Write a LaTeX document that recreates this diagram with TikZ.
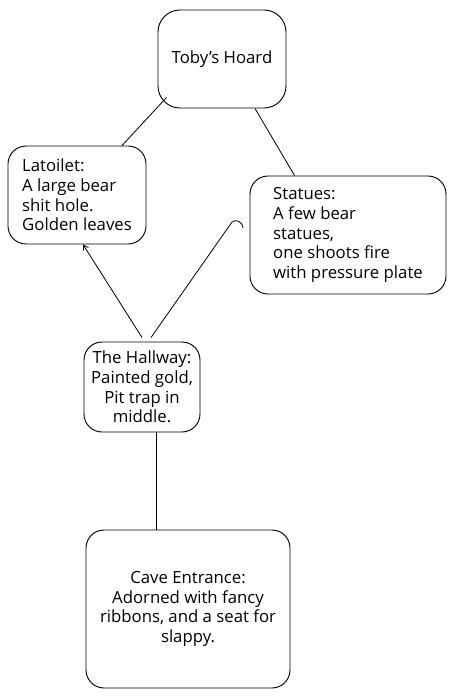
\documentclass[tikz,border=0pt]{standalone}
\usepackage{fontspec}
\setmainfont{Open Sans}
\usetikzlibrary{calc,arrows.meta}
\def\pxu{0.03cm}
\tikzset{
  box/.style={draw, line width=0.8pt, rounded corners=18*\pxu, inner sep=0pt,
    font=\fontsize{14.3}{16.8}\selectfont},
  link/.style={draw, line width=0.7pt},
}
\begin{document}
\begin{tikzpicture}[x=0.03cm,y=-0.03cm]
\useasboundingbox[fill=white] (0,0) rectangle (456,698);
\node[box, minimum width=128*\pxu, minimum height=98*\pxu, rounded corners=22*\pxu, align=center] (toby) at (222,59) {Toby's Hoard};
\node[box, minimum width=138*\pxu, minimum height=98*\pxu, align=left] (lat) at (77,195) {Latoilet:\\A large bear\\shit hole.\\Golden leaves};
\node[box, minimum width=196*\pxu, minimum height=118*\pxu, align=left] (stat) at (348,235) {Statues:\\A few bear\\statues,\\one shoots fire\\with pressure plate};
\node[box, minimum width=116*\pxu, minimum height=90*\pxu, align=center] (hall) at (142,387) {The Hallway:\\Painted gold,\\Pit trap in\\middle.};
\node[box, minimum width=204*\pxu, minimum height=158*\pxu, align=center] (cave) at (188,609) {Cave Entrance:\\Adorned with fancy\\ribbons, and a seat for\\slappy.};
\coordinate (tick) at (243,228);
% connectors
\draw[link] ($(toby.south west)+(9,-11)$) -- ($(lat.north)+(45,0)$);
\draw[link] ($(toby.south)+(33,0)$) -- ($(stat.north west)+(45,0)$);
\draw[link, -{Straight Barb[length=4pt,width=5pt]}] ($(hall.north)+(0,-4)$) -- ($(lat.south)+(6,0)$);
\draw[link] ($(hall.north)+(9,-4)$) -- (232,222) .. controls (236,219) and (242,221) .. (tick);
\draw[link] ($(hall.south)+(14,0)$) -- ($(cave.north)+(-32,0)$);
\end{tikzpicture}
\end{document}
